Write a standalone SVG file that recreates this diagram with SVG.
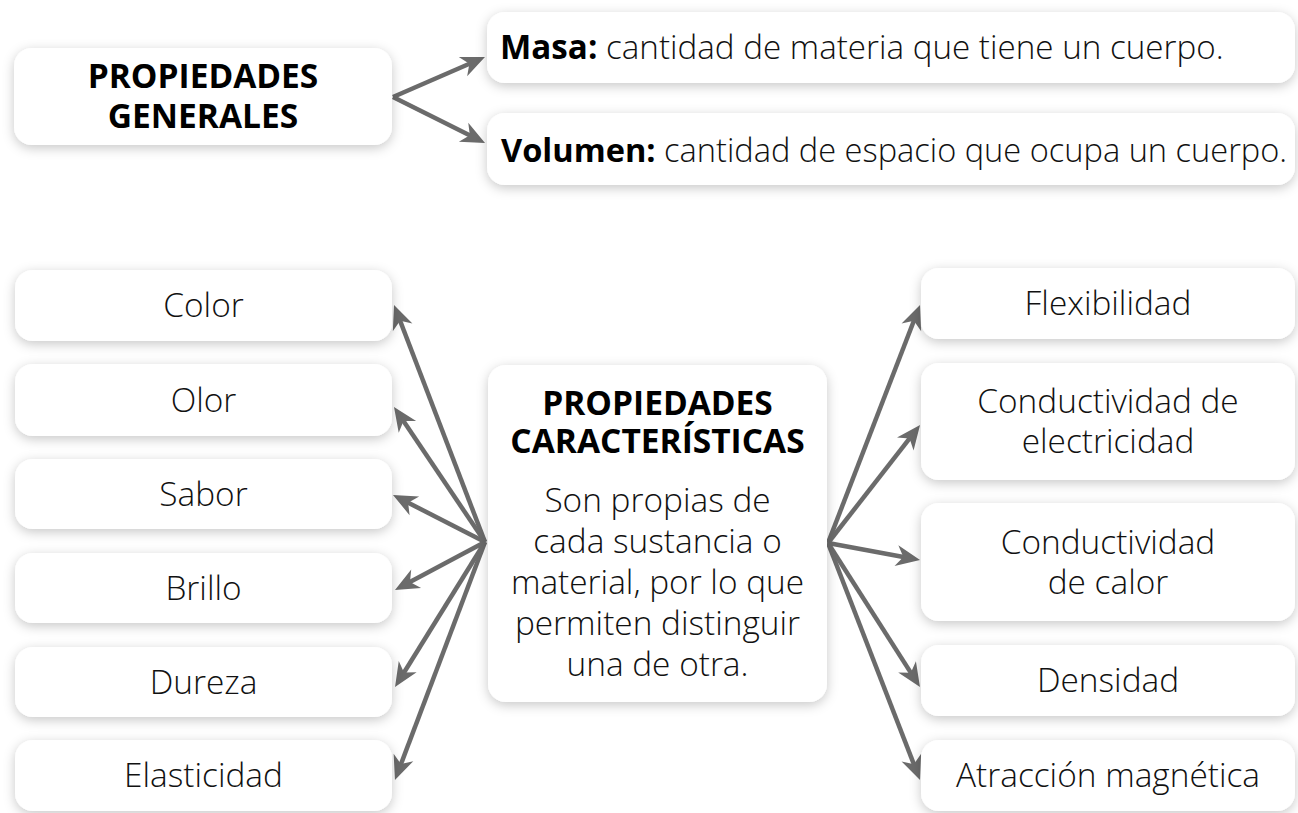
<svg xmlns="http://www.w3.org/2000/svg" width="1298" height="813" viewBox="0 0 1298 813">
  <style>
    .box { fill: #ffffff; filter: url(#sh); }
    .t { font-family: "Open Sans", "Noto Sans", "DejaVu Sans", sans-serif; font-size: 33.4px; font-weight: 350; fill: #111111; text-anchor: middle; }
    .tl { font-family: "Open Sans", "Noto Sans", "DejaVu Sans", sans-serif; font-weight: 350; fill: #111111; }
    .b { font-family: "Open Sans", "Noto Sans", "DejaVu Sans", sans-serif; font-size: 33.5px; font-weight: 700; fill: #000000; text-anchor: middle; }
    .bi { font-weight: 700; fill: #000000; }
    .c { stroke: #6b6b6b; stroke-width: 4.5; fill: none; marker-end: url(#ah); }
  </style>
  <defs>
    <filter id="sh" x="-10%" y="-30%" width="120%" height="160%">
      <feDropShadow dx="0" dy="3" stdDeviation="6" flood-color="#000000" flood-opacity="0.22"/>
    </filter>
    <marker id="ah" markerUnits="userSpaceOnUse" viewBox="-16 -12 28 24" refX="0" refY="0" markerWidth="28" markerHeight="24" orient="auto">
      <path d="M10,0 L-14,-10.5 L-7,0 L-14,10.5 Z" fill="#6b6b6b"/>
    </marker>
  </defs>

  <rect width="1298" height="813" fill="#ffffff"/>

  <g id="connectors">
    <line class="c" x1="393" y1="97" x2="475.8" y2="61"/>
    <line class="c" x1="393" y1="97" x2="476.1" y2="138.5"/>

    <line class="c" x1="485" y1="542" x2="397.6" y2="314.3"/>
    <line class="c" x1="485" y1="542" x2="399.6" y2="415.3"/>
    <line class="c" x1="485" y1="542" x2="401.9" y2="499.5"/>
    <line class="c" x1="485" y1="542" x2="403.8" y2="585.3"/>
    <line class="c" x1="485" y1="542" x2="400.3" y2="678.5"/>
    <line class="c" x1="485" y1="542" x2="398.5" y2="770.6"/>

    <line class="c" x1="828" y1="543" x2="916.4" y2="314.3"/>
    <line class="c" x1="828" y1="543" x2="913.9" y2="432.9"/>
    <line class="c" x1="828" y1="543" x2="910.2" y2="558.2"/>
    <line class="c" x1="828" y1="543" x2="914.6" y2="678.6"/>
    <line class="c" x1="828" y1="543" x2="916.4" y2="770.7"/>
  </g>

  <g id="generales">
    <rect class="box" x="14" y="48" width="378" height="97" rx="18"/>
    <text class="b" x="203" y="88">PROPIEDADES</text>
    <text class="b" x="203" y="128">GENERALES</text>
  </g>

  <g id="masa">
    <rect class="box" x="487" y="12" width="808" height="71" rx="18"/>
    <text class="tl" x="500" y="59" font-size="33.2"><tspan class="bi">Masa:</tspan> cantidad de materia que tiene un cuerpo.</text>
  </g>

  <g id="volumen">
    <rect class="box" x="487" y="113" width="808" height="72" rx="18"/>
    <text class="tl" x="501" y="162" font-size="32.6"><tspan class="bi">Volumen:</tspan> cantidad de espacio que ocupa un cuerpo.</text>
  </g>

  <g id="caracteristicas">
    <rect class="box" x="488" y="365" width="339" height="337" rx="18"/>
    <text class="b" x="657.5" y="415">PROPIEDADES</text>
    <text class="b" x="657.5" y="453">CARACTERÍSTICAS</text>
    <text class="t" x="657.5" y="512">Son propias de</text>
    <text class="t" x="657.5" y="553">cada sustancia o</text>
    <text class="t" x="657.5" y="594">material, por lo que</text>
    <text class="t" x="657.5" y="635">permiten distinguir</text>
    <text class="t" x="657.5" y="676">una de otra.</text>
  </g>

  <g id="color">
    <rect class="box" x="15" y="270" width="377" height="71" rx="18"/>
    <text class="t" x="203.5" y="317">Color</text>
  </g>
  <g id="olor">
    <rect class="box" x="15" y="364" width="377" height="72" rx="18"/>
    <text class="t" x="203.5" y="411.5">Olor</text>
  </g>
  <g id="sabor">
    <rect class="box" x="15" y="459" width="377" height="70" rx="18"/>
    <text class="t" x="203.5" y="505.5">Sabor</text>
  </g>
  <g id="brillo">
    <rect class="box" x="15" y="553" width="377" height="70" rx="18"/>
    <text class="t" x="203.5" y="599.5">Brillo</text>
  </g>
  <g id="dureza">
    <rect class="box" x="15" y="647" width="377" height="70" rx="18"/>
    <text class="t" x="203.5" y="693.5">Dureza</text>
  </g>
  <g id="elasticidad">
    <rect class="box" x="15" y="740" width="377" height="71" rx="18"/>
    <text class="t" x="203.5" y="787">Elasticidad</text>
  </g>

  <g id="flexibilidad">
    <rect class="box" x="921" y="268" width="374" height="71" rx="18"/>
    <text class="t" x="1108" y="315">Flexibilidad</text>
  </g>
  <g id="cond-electricidad">
    <rect class="box" x="921" y="363" width="374" height="117" rx="18"/>
    <text class="t" x="1108" y="413">Conductividad de</text>
    <text class="t" x="1108" y="453">electricidad</text>
  </g>
  <g id="cond-calor">
    <rect class="box" x="921" y="503" width="374" height="118" rx="18"/>
    <text class="t" x="1108" y="554">Conductividad</text>
    <text class="t" x="1108" y="594">de calor</text>
  </g>
  <g id="densidad">
    <rect class="box" x="921" y="645" width="374" height="71" rx="18"/>
    <text class="t" x="1108" y="692">Densidad</text>
  </g>
  <g id="atraccion">
    <rect class="box" x="921" y="740" width="374" height="71" rx="18"/>
    <text class="t" x="1108" y="787">Atracción magnética</text>
  </g>
</svg>
